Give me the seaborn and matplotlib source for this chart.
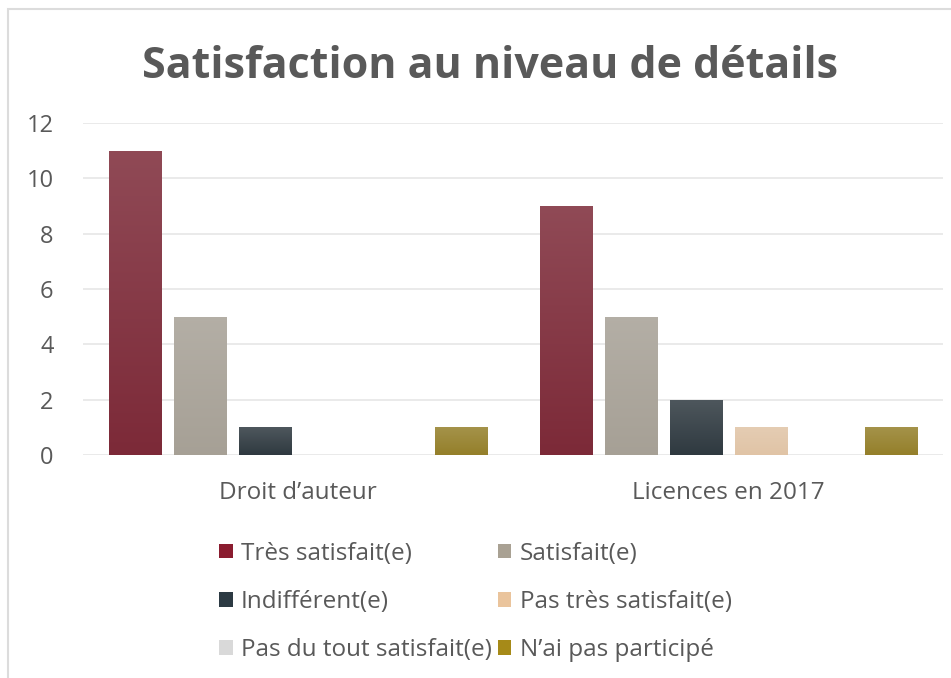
import numpy as np
import pandas as pd
import seaborn as sns
from matplotlib import pyplot as plt
from matplotlib.colors import to_rgb
from matplotlib.patches import Rectangle, Patch

sns.set_theme(style="white")
plt.rcParams['font.family'] = ['Open Sans', 'DejaVu Sans']

# données
categories = ["Droit d’auteur", "Licences en 2017"]
niveaux = ["Très satisfait(e)", "Satisfait(e)", "Indifférent(e)",
           "Pas très satisfait(e)", "Pas du tout satisfait(e)", "N’ai pas participé"]
tres_satisfait = [11, 9]
satisfait = [5, 5]
indifferent = [1, 2]
pas_tres_satisfait = [0, 1]
pas_du_tout = [0, 0]
pas_participe = [1, 1]

couleurs = ["#8a1c2f", "#a9a193", "#2c3a43", "#eac49c", "#d9d9d9", "#a68a18"]
texte = "#595959"

series = [tres_satisfait, satisfait, indifferent, pas_tres_satisfait, pas_du_tout, pas_participe]
df = pd.DataFrame([(c, n, s[i]) for n, s in zip(niveaux, series) for i, c in enumerate(categories)],
                  columns=["categorie", "niveau", "valeur"])

fig = plt.figure(figsize=(9.51, 6.78), dpi=100)
ax = fig.add_axes([0.087, 0.329, 0.905, 0.4896])

sns.barplot(data=df, x="categorie", y="valeur", hue="niveau", hue_order=niveaux,
            palette=couleurs, width=0.907, gap=0.2, ax=ax, legend=False,
            edgecolor="none", linewidth=0)

# petit dégradé vertical sur chaque barre (plus clair en haut)
for p in list(ax.patches):
    h = p.get_height()
    if h <= 0:
        continue
    x0, w = p.get_x(), p.get_width()
    base = np.array(to_rgb(p.get_facecolor()))
    haut = base + (1 - base) * 0.15
    grad = np.linspace(0, 1, 100)[:, None, None]
    img = haut * (1 - grad) + base * grad
    im = ax.imshow(img, extent=[x0, x0 + w, 0, h], origin="upper", aspect="auto",
                   zorder=p.get_zorder() + 0.1, interpolation="bilinear")
    im.set_clip_path(p)
ax.set_xlim(-0.5, 1.5)
ax.set_ylim(0, 12)
ax.set_yticks(range(0, 13, 2))

ax.yaxis.grid(True, color="#e6e6e6", linewidth=1.2)
ax.set_axisbelow(True)
sns.despine(ax=ax, left=True, bottom=True)
ax.set_xlabel("")
ax.set_ylabel("")
ax.tick_params(axis="y", length=0, pad=21, labelsize=17, labelcolor=texte)
ax.tick_params(axis="x", length=0, pad=19, labelsize=17.5, labelcolor=texte)

fig.text(0.515, 0.902, "Satisfaction au niveau de détails", ha="center", va="center",
         fontsize=31, fontweight="bold", color=texte)

# ordre ligne par ligne comme dans l'original
ordre = [0, 2, 4, 1, 3, 5]
handles = [Patch(facecolor=couleurs[i], edgecolor="none") for i in ordre]
labels = [niveaux[i] for i in ordre]
leg = fig.legend(handles, labels, loc="center", bbox_to_anchor=(0.5, 0.112), ncol=2,
                 frameon=False, fontsize=17.5, handlelength=0.55, handleheight=0.55,
                 handletextpad=0.35, columnspacing=0.25, labelspacing=1.0)
for t in leg.get_texts():
    t.set_color(texte)

# cadre du graphique
fig.patches.append(Rectangle((8 / 951, -0.1), 1.1, 1 - 9 / 678 + 0.1, transform=fig.transFigure,
                             fill=False, edgecolor="#dcdcdc", linewidth=1.5))

plt.savefig("out.png", dpi=100)
